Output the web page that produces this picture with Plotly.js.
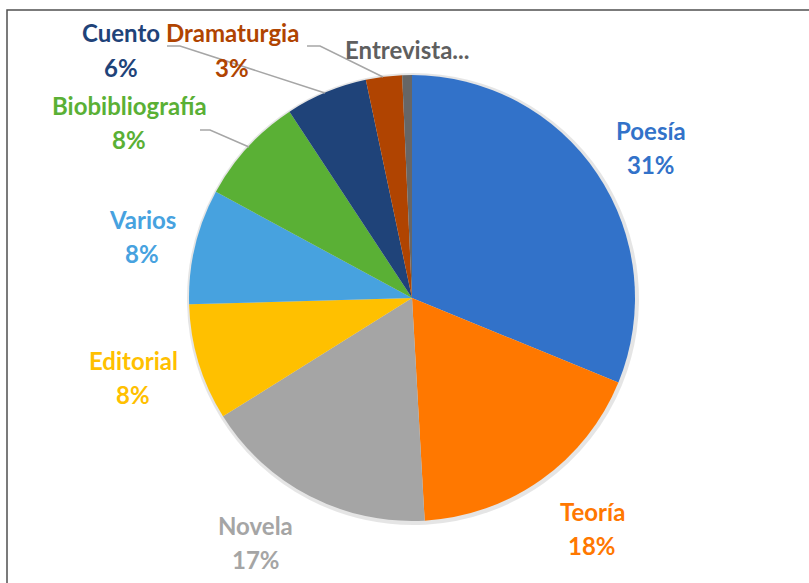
<!DOCTYPE html>
<html>
<head>
<meta charset="utf-8">
<script src="https://cdn.plot.ly/plotly-3.0.1.min.js"></script>
<style>html,body{margin:0;padding:0;background:#fff;}#chart{width:809px;height:583px;}</style>
</head>
<body>
<div id="chart"></div>
<script>
// ---- data ----
const categories = ["Poesía", "Teoría", "Novela", "Editorial", "Varios", "Biobibliografía", "Cuento", "Dramaturgia", "Entrevista"];
const values = [31.0, 17.8, 16.9, 8.4, 8.3, 7.8, 5.9, 2.6, 0.7];
const displayNames = ["Poesía", "Teoría", "Novela", "Editorial", "Varios", "Biobibliografía", "Cuento", "Dramaturgia", "Entrevista..."];
const showPercent = [true, true, true, true, true, true, true, true, false];

// ---- styles ----
const colors = ["#3272C9", "#FF7800", "#A5A5A5", "#FFC000", "#47A2DF", "#5AB035", "#1F4379", "#B04401", "#666666"];
const labelColors = ["#3272C9", "#FF7800", "#A5A5A5", "#FFC000", "#47A2DF", "#5AB035", "#1F4379", "#B04401", "#5F5F5F"];
// label centre positions in pixels (name line)
const labelPos = [[651,130],[592,511],[256,525],[133,360],[142,219],[129,105],[121,33],[232,33],[407,50]];
const W = 809, H = 583;
const fx = x => x / W, fy = y => 1 - y / H;
const labelFont = c => ({family:'Lato, "Open Sans", sans-serif', size:24, color:c, weight:'bold'});

const total = values.reduce((a, b) => a + b, 0);
const pct = values.map(v => Math.round(v / total * 100) + "%");

const annotations = [];
categories.forEach((c, i) => {
  const [x, y] = labelPos[i];
  annotations.push({xref:'paper', yref:'paper', x: fx(x), y: fy(y), xanchor:'center', yanchor:'middle',
    text: displayNames[i], showarrow:false, font: labelFont(labelColors[i])});
  if (showPercent[i]) {
    annotations.push({xref:'paper', yref:'paper', x: fx(x), y: fy(y + 34), xanchor:'center', yanchor:'middle',
      text: pct[i], showarrow:false, font: labelFont(labelColors[i])});
  }
});

function pathPx(pts) {
  return pts.map((p, i) => (i ? 'L' : 'M') + fx(p[0]).toFixed(4) + ',' + fy(p[1]).toFixed(4)).join(' ');
}
const leaderLines = [
  [[167,46],[180,46],[325,93]],
  [[307,46],[320,46],[383,77]],
  [[200,130],[210,130],[249,147]]
];
const shapes = leaderLines.map(pts => ({type:'path', xref:'paper', yref:'paper', path: pathPx(pts), line:{color:'#A6A6A6', width:1.5}}));
shapes.push({type:'rect', xref:'paper', yref:'paper', x0: fx(7), y0: fy(590), x1: fx(815), y1: fy(10), line:{color:'#505050', width:1.5}, fillcolor:'rgba(0,0,0,0)'});

const domainX = [189 / W, 635 / W];
const domainY = [fy(521), fy(75)];

const shadow = {
  type:'pie', values: values, labels: categories, sort:false, direction:'clockwise',
  marker:{colors: values.map(() => 'rgba(0,0,0,0.10)'), line:{width:0}},
  textinfo:'none', hoverinfo:'skip', showlegend:false,
  domain:{x:[fx(187), fx(639)], y:[fy(525), fy(73)]}
};
const pie = {
  type:'pie', values: values, labels: categories, sort:false, direction:'clockwise', rotation:0,
  marker:{colors: colors, line:{width:0}},
  textinfo:'none', showlegend:false,
  domain:{x: domainX, y: domainY}
};

Plotly.newPlot('chart', [shadow, pie], {
  width: W, height: H,
  margin:{l:0, r:0, t:0, b:0},
  paper_bgcolor:'#ffffff',
  showlegend:false,
  annotations: annotations,
  shapes: shapes
}, {displayModeBar:false, staticPlot:true});
</script>
</body>
</html>
